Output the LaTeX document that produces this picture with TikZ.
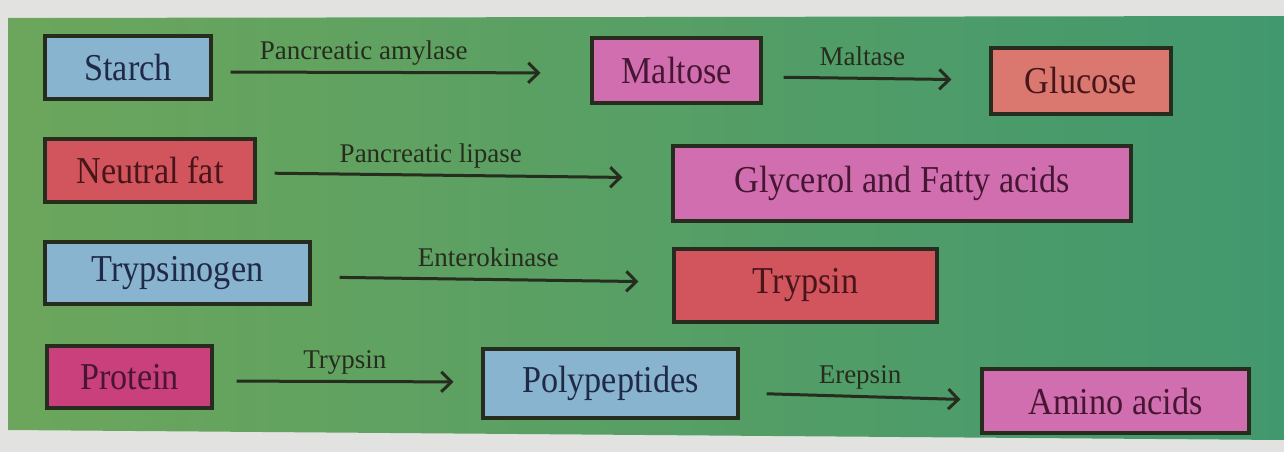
\documentclass[tikz,border=0pt]{standalone}
\usepackage{fontspec}
\setmainfont{Liberation Serif}
\newfontfamily\boxfont[FakeStretch=0.9]{Liberation Serif}
\usetikzlibrary{arrows.meta}
\definecolor{pagebg}{RGB}{226,226,224}
\definecolor{greenL}{RGB}{108,166,92}
\definecolor{greenM}{RGB}{96,162,98}
\definecolor{greenR}{RGB}{66,152,110}
\definecolor{inkc}{RGB}{38,44,30}
\definecolor{bluef}{RGB}{136,180,208}
\definecolor{bluet}{RGB}{32,42,70}
\definecolor{redf}{RGB}{210,84,92}
\definecolor{salmonf}{RGB}{218,120,112}
\definecolor{redt}{RGB}{72,22,26}
\definecolor{pinkf}{RGB}{208,110,176}
\definecolor{magf}{RGB}{202,64,124}
\definecolor{pinkt}{RGB}{70,22,50}
\tikzset{
  box/.style={draw=inkc, line width=3.2pt, rectangle, inner sep=0pt,
    font=\boxfont\fontsize{38}{42}\selectfont},
  bluebox/.style={box, fill=bluef, text=bluet},
  redbox/.style={box, fill=redf, text=redt},
  salmonbox/.style={box, fill=salmonf, text=redt},
  pinkbox/.style={box, fill=pinkf, text=pinkt},
  magbox/.style={box, fill=magf, text=pinkt},
  conv/.style={draw=inkc, line width=3pt,
    -{Straight Barb[length=10pt,width=20pt,line width=3pt]}},
  lab/.style={font=\fontsize{27}{30}\selectfont, text=inkc, anchor=base, yshift=13pt, inner sep=0pt}
}
\begin{document}
\begin{tikzpicture}[x=1pt,y=-1pt]
\useasboundingbox (0,0) rectangle (1284,452);
\fill[pagebg] (0,0) rectangle (1284,452);
\shade[left color=greenL, middle color=greenM, right color=greenR] (8,18) -- (1284,16) -- (1284,440) -- (8,430) -- cycle;

% row 1
\node[bluebox, minimum width=166pt, minimum height=63pt] (starch) at (128,67.5) {Starch};
\node[pinkbox, minimum width=169pt, minimum height=65pt] (maltose) at (676.5,70.5) {Maltose};
\node[salmonbox, minimum width=180pt, minimum height=66pt] (glucose) at (1081,81) {Glucose};
% row 2
\node[redbox, minimum width=210pt, minimum height=63pt] (fat) at (150,170.5) {Neutral fat};
\node[pinkbox, minimum width=458pt, minimum height=75pt] (glycerol) at (902,183.5) {Glycerol and Fatty acids};
% row 3
\node[bluebox, minimum width=265pt, minimum height=62pt] (trypsinogen) at (177.5,273) {Trypsinogen};
\node[redbox, minimum width=263pt, minimum height=73pt] (trypsin) at (805.5,285.5) {Trypsin};
% row 4
\node[magbox, minimum width=165pt, minimum height=62pt] (protein) at (129.5,377) {Protein};
\node[bluebox, minimum width=255pt, minimum height=69pt] (poly) at (610.5,383.5) {Polypeptides};
\node[pinkbox, minimum width=267pt, minimum height=64pt] (amino) at (1115.5,401) {Amino acids};

% connectors
\draw[conv, shorten <=18pt, shorten >=50pt] ([yshift=-4.5pt]starch.east) -- node[lab, pos=0.40] {Pancreatic amylase} ([yshift=-2.5pt]maltose.west);
\draw[conv, shorten <=21pt, shorten >=38pt] ([yshift=-6.5pt]maltose.east) -- node[lab, pos=0.44] {Maltase} ([yshift=1pt]glucose.west);
\draw[conv, shorten <=18pt, shorten >=49pt] ([yshift=-2.5pt]fat.east) -- node[lab, pos=0.42] {Pancreatic lipase} ([yshift=5.5pt]glycerol.west);
\draw[conv, shorten <=28pt, shorten >=34pt] ([yshift=-4pt]trypsinogen.east) -- node[lab, pos=0.49] {Enterokinase} ([yshift=3.5pt]trypsin.west);
\draw[conv, shorten <=23pt, shorten >=28pt] ([yshift=-4pt]protein.east) -- node[lab, pos=0.49] {Trypsin} ([yshift=1.5pt]poly.west);
\draw[conv, shorten <=27pt, shorten >=20pt] ([yshift=-9.5pt]poly.east) -- node[lab, pos=0.50] {Erepsin} ([yshift=1pt]amino.west);
\end{tikzpicture}
\end{document}
